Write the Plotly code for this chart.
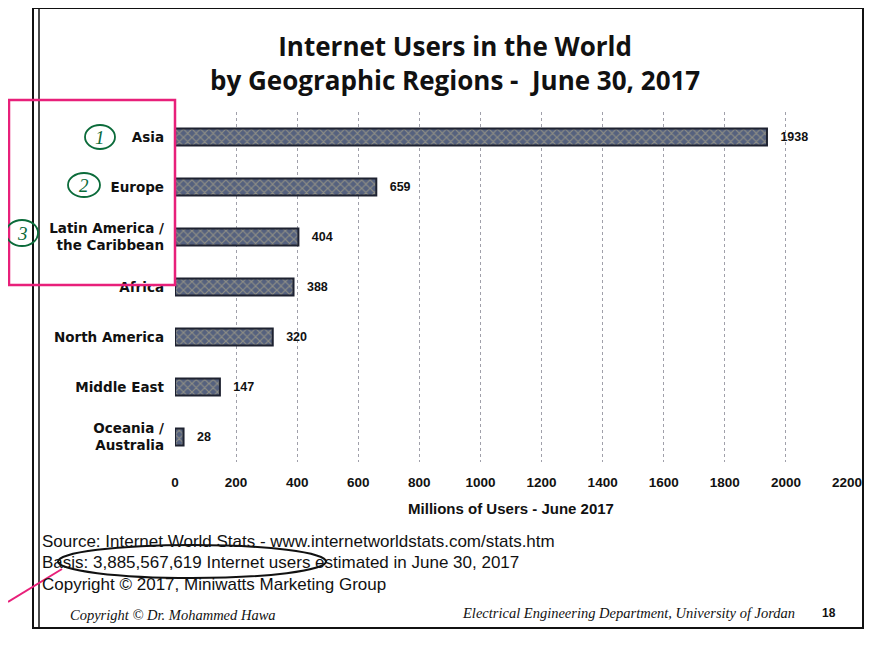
import plotly.graph_objects as go

regions = ["Asia", "Europe", "Latin America /<br>the Caribbean", "Africa",
           "North America", "Middle East", "Oceania /<br>Australia"]
users_millions = [1938, 659, 404, 388, 320, 147, 28]
tick_values = [0, 200, 400, 600, 800, 1000, 1200, 1400, 1600, 1800, 2000, 2200]

# the page body has an 8px margin; work in screen pixels and compensate
OFF = 8
W, H = 877 - OFF, 646 - OFF
L, R, T = 175 - OFF, 30, 112 - OFF
B = H - (462 - OFF)
PW, PH = W - L - R, H - T - B


def px(x):
    return (x - OFF - L) / PW


def py(y):
    return (H - B - (y - OFF)) / PH


fig = go.Figure()
fig.add_trace(go.Bar(
    y=regions, x=users_millions, orientation="h", width=0.34,
    marker=dict(color="#56607a", line=dict(color="#1e2230", width=2),
                pattern=dict(shape="x", fgcolor="#c9bd8c", bgcolor="#55617e",
                             size=6, solidity=0.35)),
    text=[str(v) for v in users_millions], texttemplate="\u00a0\u00a0\u00a0%{text}",
    textposition="outside",
    textfont=dict(family="Liberation Sans", size=12.5, color="#111", weight="bold"),
    cliponaxis=False, hoverinfo="skip",
))

fig.update_layout(
    width=W, height=H, margin=dict(l=L, r=R, t=T, b=B),
    paper_bgcolor="white", plot_bgcolor="white", showlegend=False,
    font=dict(family="Liberation Sans", color="#111"),
    xaxis=dict(range=[0, 2200], tickvals=tick_values,
               tickfont=dict(family="Liberation Sans", size=13.5, color="#111", weight="bold"),
               showgrid=True, gridcolor="#a0a0aa", griddash="dot", gridwidth=1,
               zeroline=False, showline=False, ticks="", ticklabelstandoff=10,
               title=dict(text="<b>Millions of Users - June 2017</b>", standoff=14,
                          font=dict(family="Liberation Sans", size=15, color="#111"))),
    yaxis=dict(autorange="reversed", showgrid=False, zeroline=False, showline=False,
               ticks="", ticklabelstandoff=10,
               tickfont=dict(family="DejaVu Sans", size=13.5, color="#111", weight="bold")),
)

anns = [
    dict(text="<b>Internet Users in the World<br>by Geographic Regions -  June 30, 2017</b>",
         x=px(455), y=py(63), font=dict(family="Open Sans", size=26, color="#111"), xanchor="center", yanchor="middle"),
    dict(text="Source: Internet World Stats - www.internetworldstats.com/stats.htm",
         x=px(40), y=py(541), font=dict(family="Liberation Sans", size=17, color="#111"), xanchor="left", yanchor="middle"),
    dict(text="Basis: 3,885,567,619 Internet users estimated in June 30, 2017",
         x=px(40), y=py(562), font=dict(family="Liberation Sans", size=17, color="#111"), xanchor="left", yanchor="middle"),
    dict(text="Copyright © 2017, Miniwatts Marketing Group",
         x=px(40), y=py(584), font=dict(family="Liberation Sans", size=17, color="#111"), xanchor="left", yanchor="middle"),
    dict(text="<i>Copyright © Dr. Mohammed Hawa</i>",
         x=px(68), y=py(615), font=dict(family="Liberation Serif", size=14.5, color="#111"), xanchor="left", yanchor="middle"),
    dict(text="<i>Electrical Engineering Department, University of Jordan</i>",
         x=px(460), y=py(613), font=dict(family="Liberation Serif", size=14.5, color="#111"), xanchor="left", yanchor="middle"),
    dict(text="<b>18</b>",
         x=px(820), y=py(613), font=dict(family="Liberation Sans", size=12, color="#111"), xanchor="left", yanchor="middle"),
]
# handwritten circled numbers
for n, (cx, cy) in enumerate([(100, 137), (84, 185), (22, 233)], start=1):
    anns.append(dict(text=f"<i>{n}</i>", x=px(cx), y=py(cy), showarrow=False,
                     font=dict(family="Liberation Serif", size=19, color="#0b6b3a"),
                     xanchor="center", yanchor="middle"))
for a in anns:
    a.setdefault("showarrow", False)
    a["xref"] = "paper"
    a["yref"] = "paper"
fig.update_layout(annotations=anns)

shapes = [
    # slide frame
    dict(type="rect", x0=px(33), x1=px(863), y0=py(628), y1=py(8), line=dict(color="#111", width=2)),
    dict(type="line", x0=px(39), x1=px(39), y0=py(628), y1=py(8), line=dict(color="#111", width=1.5)),
    # pink highlight box
    dict(type="rect", x0=px(9), x1=px(175), y0=py(285), y1=py(100), line=dict(color="#e8207a", width=2.5)),
    # ellipse on basis line
    dict(type="circle", x0=px(58), x1=px(326), y0=py(578), y1=py(545), line=dict(color="#111", width=2)),
    dict(type="line", x0=px(8), x1=px(62), y0=py(602), y1=py(569), line=dict(color="#e8207a", width=2)),
]
for cx, cy, rx, ry in [(100, 137, 15, 12), (84, 185, 16, 12), (22, 233, 16, 13)]:
    shapes.append(dict(type="circle", x0=px(cx - rx), x1=px(cx + rx), y0=py(cy + ry), y1=py(cy - ry),
                       line=dict(color="#0b6b3a", width=1.8)))
for s in shapes:
    s["xref"] = "paper"
    s["yref"] = "paper"
    s["layer"] = "above"
fig.update_layout(shapes=shapes)

fig.write_html("out.html")
